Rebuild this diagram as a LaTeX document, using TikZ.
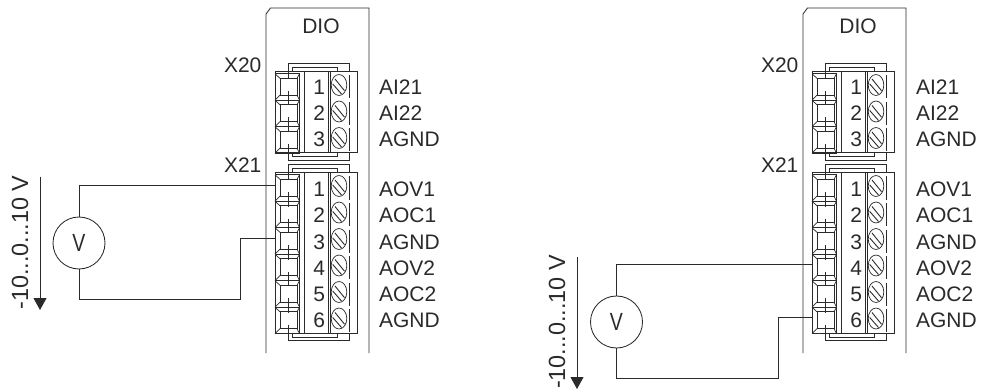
\documentclass[tikz,border=0pt]{standalone}
\usepackage{fontspec}
\setmainfont{Liberation Sans}
\definecolor{ink}{HTML}{2B2A2A}
\usetikzlibrary{arrows.meta}
\tikzset{
  base/.style={x=1pt,y=-1pt,line width=0.85pt,draw=ink,text=ink},
  lab/.style={inner sep=0pt,outer sep=0pt,font=\fontsize{21}{22}\selectfont,text=ink},
  termsq/.style={draw=ink,minimum width=24.5pt,minimum height=26.4pt,inner sep=0pt,outer sep=0pt},
  meter/.style={circle,draw=ink,minimum size=52pt,inner sep=0pt,font=\fontsize{23}{24}\selectfont,text=ink},
  rangelab/.style={inner sep=0pt,rotate=90,font=\fontsize{23.4}{24}\selectfont,text=ink},
  fine/.style={line width=0.7pt},
  wire/.style={draw=ink,line width=0.85pt},
  varrow/.style={draw=ink,line width=0.85pt,-{Triangle[width=13pt,length=12pt,fill=ink]}}
}
% #1 prefix, #2 first centre y, #3 count
\newcommand{\connector}[3]{%
  \pgfmathsetmacro{\ct}{#2-15.3}
  \pgfmathsetmacro{\cb}{#2-13.3+26.5*#3-0.5}
  \draw (275,\ct) rectangle (357,\cb);
  \draw (304,\ct) -- (304,\cb);
  \draw (328,\ct) -- (328,\cb);
  \draw[fine] (330.5,\ct) -- (330.5,\cb);
  % brackets
  \draw (288,\ct) -- (288,\ct-8) -- (349,\ct-8) -- (349,\ct);
  \draw[fine] (292.5,\ct) -- (292.5,\ct-4.5) -- (337,\ct-4.5) -- (337,\ct);
  \draw (288,\cb) -- (288,\cb+7.5) -- (349,\cb+7.5) -- (349,\cb);
  \draw[fine] (292.5,\cb) -- (292.5,\cb+4) -- (337,\cb+4) -- (337,\cb);
  \draw (288,\ct) -- (288,#2-8);
  \foreach \i in {1,...,#3}{
    \pgfmathsetmacro{\yy}{#2+26.5*(\i-1)}
    \node[termsq] (#1T\i) at (287.25,\yy) {};
    \draw[fine] ([xshift=5pt,yshift=-4.5pt]#1T\i.north west) rectangle ([xshift=-2.5pt,yshift=5pt]#1T\i.south east);
    \draw[fine] (#1T\i.north west) -- ++(5,4.5);
    \draw[fine] (#1T\i.north east) -- ++(-2.5,4.5);
    \draw[fine] (#1T\i.south west) -- ++(5,-5);
    \draw[fine] (#1T\i.south east) -- ++(-2.5,-5);
    % link through the terminal
    \draw (288,\yy+4) -- (288,\yy+18.5);
    % screw
    \draw[fine] (339,\yy-2) ellipse [x radius=7.8pt,y radius=10.5pt];
    \draw[line width=0.9pt] (335,\yy-8) -- (344.5,\yy+3.7);
    \draw[line width=0.9pt] (332.7,\yy-3) -- (341.5,\yy+7);
    % side line
    \draw (349,\yy-11.5) -- (349,\yy+11.5);
  }
}
\newcommand{\module}[1]{%
  \draw (266,353) -- (266,14) -- (270.5,8) -- (369,8) -- (369,353);
  \node[lab,anchor=base] (#1dio) at (321,34) {DIO};
  \node[lab,anchor=base west] (#1xa) at (224,73) {X20};
  \node[lab,anchor=base west] (#1xb) at (224,173) {X21};
  \connector{#1a}{87}{3}
  \connector{#1b}{188}{6}
  \foreach \t/\n/\y in {1/AI21/95,2/AI22/121,3/AGND/147,1/AOV1/196.5,2/AOC1/222.5,3/AGND/249,4/AOV2/275.5,5/AOC2/301,6/AGND/327}{
    \node[lab,anchor=base east] at (325,\y) {\t};
    \node[lab,anchor=base west] at (379,\y) {\n};
  }
}
\newcommand{\vlabel}{\scalebox{0.85}[1.08]{V}}
\begin{document}
\begin{tikzpicture}[base]
\useasboundingbox (0,0) rectangle (987,390);
\begin{scope}
  \module{l}
\end{scope}
\begin{scope}[shift={(537,0)}]
  \module{r}
\end{scope}
% left meter
\node[meter] (lv) at (79,243) {\vlabel};
\coordinate (lbend) at (240,299);
\draw[wire] (lv.north) |- ([yshift=2.5pt]lbT1.west);
\draw[wire] (lv.south) |- (lbend) |- ([yshift=3pt]lbT3.west);
\coordinate (la0) at (40,177);
\coordinate (la1) at (40,310);
\draw[varrow] (la0) -- (la1);
\node[rangelab] (lr) at (20,242.5) {-10...0...10 V};
% right meter
\node[meter] (rv) at (616.5,322) {\vlabel};
\coordinate (rbend) at (778,378);
\draw[wire] (rv.north) |- ([yshift=3pt]rbT4.west);
\draw[wire] (rv.south) |- (rbend) |- ([yshift=3pt]rbT6.west);
\coordinate (ra0) at (577,257);
\coordinate (ra1) at (577,389);
\draw[varrow] (ra0) -- (ra1);
\node[rangelab] (rr) at (557,322) {-10...0...10 V};
\end{tikzpicture}
\end{document}
